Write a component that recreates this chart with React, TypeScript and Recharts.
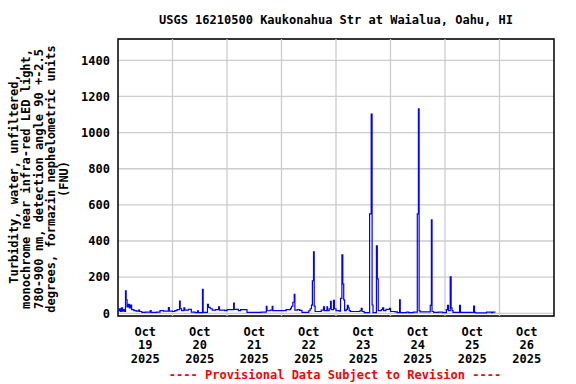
import React from 'react';
import { LineChart, Line, XAxis, YAxis, CartesianGrid, ReferenceArea, ReferenceLine } from 'recharts';

// hours since Oct 19 2025 00:00, turbidity in FNU
const hours = [
  0, 0.5, 1, 1.5, 2, 2.5, 3, 3.3, 3.6, 4, 4.5, 5, 5.5, 6, 7, 8, 9, 9.5, 10.5, 12,
  14.2, 14.6, 17, 18.5, 20, 22.2, 22.6, 24, 25, 26, 27.1, 27.4, 28, 29, 29.4, 31, 32.3, 34, 35, 35.4,
  37.2, 37.5, 39, 39.4, 39.8, 40.6, 41.5, 43, 44.3, 44.7, 47, 48, 50.9, 51.2, 52, 53, 54, 56, 56.8, 63,
  65.3, 65.6, 67, 67.9, 68.2, 72, 74, 76, 76.4, 77, 77.6, 77.9, 79, 80, 81, 84, 84.6, 85.2, 85.6, 86.1,
  86.4, 86.8, 88, 89.5, 90.5, 90.9, 92, 92.3, 93, 93.6, 93.9, 94.9, 95.3, 96, 97.4, 98.0, 98.6, 99.0, 99.4, 99.8,
  100.5, 101.0, 101.4, 101.8, 102.3, 104, 106.5, 107.1, 107.5, 108.4, 110.8, 111.5, 111.9, 112.3, 113.8, 114.2, 114.6, 116, 116.5, 117,
  118, 119.6, 120, 122, 123, 124, 124.3, 127, 128, 130, 131.8, 132.3, 132.6, 133, 136, 137.5, 138.0, 138.3, 139, 141,
  143, 144.6, 145.1, 145.5, 146.3, 146.7, 147.1, 147.5, 150.4, 150.8, 156.6, 157, 157.5, 162.3, 164, 164.5, 165, 166.2,
];
const fnu = [
  15, 25, 10, 30, 12, 20, 10, 124, 75, 35, 50, 30, 45, 20, 15, 12, 18, 10, 5, 7,
  15, 5, 7, 15, 12, 31, 12, 10, 15, 20, 68, 25, 15, 30, 18, 22, 6, 4, 14, 4,
  133, 5, 5, 50, 33, 25, 18, 20, 35, 18, 15, 20, 57, 22, 22, 15, 20, 20, 5, 6,
  39, 14, 18, 39, 15, 15, 20, 28, 39, 61, 105, 18, 20, 16, 5, 14, 25, 45, 180, 340,
  40, 10, 10, 18, 35, 15, 35, 15, 25, 66, 20, 72, 25, 15, 12, 83, 323, 162, 74, 15,
  22, 44, 30, 15, 10, 10, 14, 28, 10, 4, 550, 1103, 46, 4, 373, 190, 15, 20, 30, 15,
  22, 28, 10, 8, 4, 74, 4, 6, 4, 6, 550, 1131, 15, 8, 8, 44, 517, 10, 5, 6,
  4, 20, 44, 15, 201, 30, 15, 5, 44, 5, 40, 5, 2, 7, 7, 3, 7, 7,
];

const gridHours = [24, 48, 72, 96, 120, 144, 168];
const labelHours = [12, 36, 60, 84, 108, 132, 156, 180];
const dayLabels = ['19', '20', '21', '22', '23', '24', '25', '26'];
const yTicks = [0, 200, 400, 600, 800, 1000, 1200, 1400];
const yLabelLines = [
  'Turbidity, water, unfiltered,',
  'monochrome near infra-red LED light,',
  '780-900 nm, detection angle 90 +-2.5',
  'degrees, formazin nephelometric units',
  '(FNU)',
];

const data = hours.map((h, i) => ({ h, v: fnu[i] }));
const FONT = '"DejaVu Sans Mono", monospace';

const DayTick = (props: any) => {
  const { x, y, payload } = props;
  const i = labelHours.indexOf(payload.value);
  return (
    <text x={x} y={y} textAnchor="middle" fontFamily={FONT} fontSize={12} fontWeight="bold" fill="#000">
      <tspan x={x} dy={18}>Oct</tspan>
      <tspan x={x} dy={13.3}>{dayLabels[i]}</tspan>
      <tspan x={x} dy={13.3}>2025</tspan>
    </text>
  );
};

export default function App() {
  return (
    <div style={{ position: 'absolute', left: 0, top: 0, width: 576, height: 384, background: '#fff' }}>
      <LineChart width={576} height={384} data={data} margin={{ top: 39, right: 22, bottom: 0, left: 0 }}>
        <CartesianGrid stroke="#cccccc" strokeWidth={1.3} vertical={false} />
        <XAxis xAxisId={0} dataKey="h" type="number" domain={[0, 192]} ticks={gridHours}
          allowDataOverflow tick={false} tickLine={false} axisLine={false} height={0} />
        <XAxis xAxisId="lbl" dataKey="h" type="number" domain={[0, 192]} ticks={labelHours}
          allowDataOverflow tick={<DayTick />} tickLine={false} axisLine={false} tickSize={0} height={68} interval={0} />
        <YAxis type="number" domain={[-15, 1518]} ticks={yTicks} allowDataOverflow width={118}
          tickLine={false} axisLine={false} tickSize={0} tickMargin={8} interval={0}
          tick={{ fontFamily: FONT, fontSize: 12, fontWeight: 'bold', fill: '#000' }} />
        {gridHours.map((g) => (
          <ReferenceLine key={g} xAxisId={0} x={g} stroke="#cccccc" strokeWidth={1.3} />
        ))}
        <Line xAxisId={0} type="stepAfter" dataKey="v" stroke="#0000ff" strokeWidth={1.2}
          dot={false} isAnimationActive={false} />
        <ReferenceArea xAxisId={0} x1={0} x2={192} y1={-15} y2={1518} fill="none" fillOpacity={0}
          stroke="#000" strokeWidth={1.5} ifOverflow="visible" />
      </LineChart>
      <svg width={576} height={384} style={{ position: 'absolute', left: 0, top: 0, pointerEvents: 'none' }}>
        <text x={336} y={24} textAnchor="middle" fontFamily={FONT} fontSize={12} fontWeight="bold" fill="#000">
          USGS 16210500 Kaukonahua Str at Waialua, Oahu, HI
        </text>
        {yLabelLines.map((line, i) => (
          <text key={i} transform={`translate(${14 + 12.4 * i},179) rotate(-90)`} textAnchor="middle"
            dominantBaseline="central" fontFamily={FONT} fontSize={12} fontWeight="bold" fill="#000">
            {line}
          </text>
        ))}
        <text x={335} y={379} textAnchor="middle" fontFamily={FONT} fontSize={12} fontWeight="bold" fill="#ff0000">
          ---- Provisional Data Subject to Revision ----
        </text>
      </svg>
    </div>
  );
}
